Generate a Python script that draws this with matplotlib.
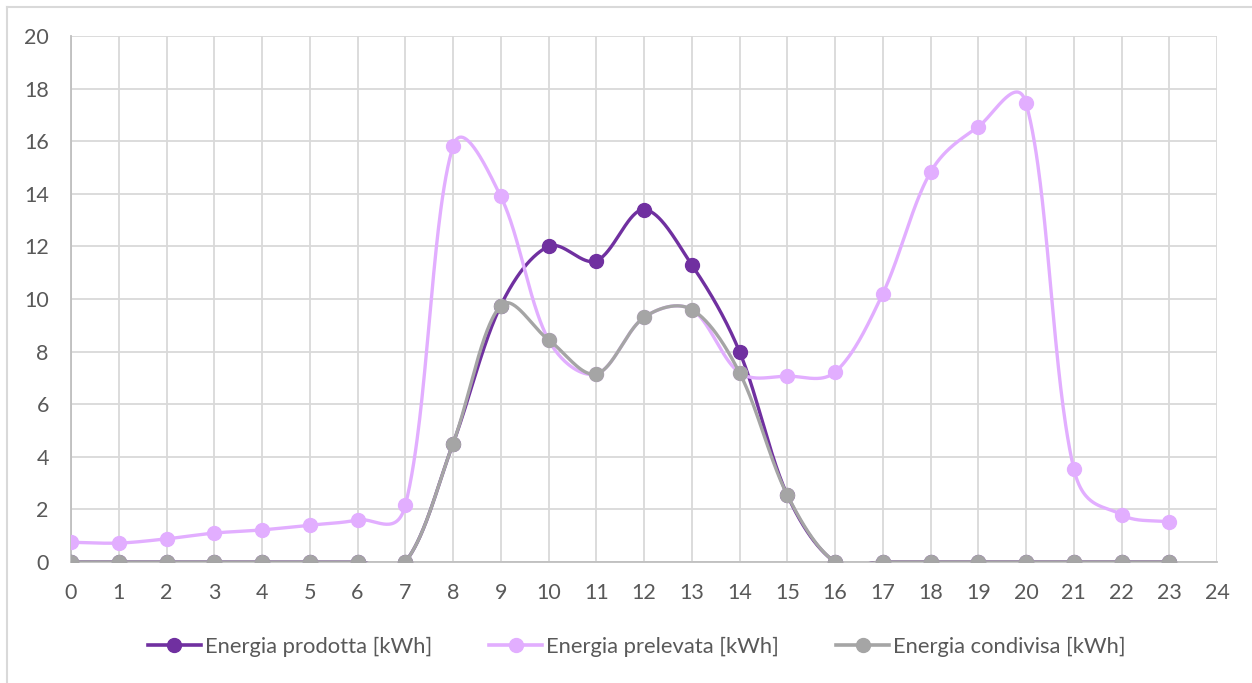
import numpy as np
import matplotlib
matplotlib.use("Agg")
import matplotlib.pyplot as plt
from matplotlib.lines import Line2D

hours = list(range(24))
prodotta = [0, 0, 0, 0, 0, 0, 0, 0, 4.5, 9.75, 12.0, 11.45, 13.4, 11.3, 8.0, 2.55,
            0, 0, 0, 0, 0, 0, 0, 0]
prelevata = [0.75, 0.72, 0.88, 1.1, 1.22, 1.4, 1.6, 2.15, 15.8, 13.9, 8.45, 7.15, 9.3, 9.6,
             7.2, 7.07, 7.22, 10.2, 14.82, 16.55, 17.45, 3.55, 1.8, 1.52]
condivisa = [0, 0, 0, 0, 0, 0, 0, 0, 4.5, 9.75, 8.45, 7.15, 9.3, 9.6, 7.2, 2.55,
             0, 0, 0, 0, 0, 0, 0, 0]
series_names = ["Energia prodotta [kWh]", "Energia prelevata [kWh]", "Energia condivisa [kWh]"]
colors = ["#7030A0", "#E2AEFF", "#A5A5A5"]

FIG_W, FIG_H = 1252, 683
AX_L, AX_R, AX_T, AX_B = 71, 1217, 36, 562
XMAX, YMAX = 24, 20


def smooth(x, y, sx, sy, n=60):
    """Bezier smoothing through every point; tangents are weighted by the
    on-screen length of the neighbouring segments (sx, sy = pixels per unit)."""
    P = np.column_stack([np.asarray(x, float) * sx, np.asarray(y, float) * sy])
    m = len(P)
    ext = np.vstack([P[0], P, P[-1]])
    t = np.linspace(0, 1, n)[:, None]
    out = []
    for i in range(m - 1):
        p_prev, p0, p1, p_next = ext[i], ext[i + 1], ext[i + 2], ext[i + 3]
        d_prev = np.sqrt(np.hypot(*(p0 - p_prev)))
        d_seg = np.sqrt(np.hypot(*(p1 - p0)))
        d_next = np.sqrt(np.hypot(*(p_next - p1)))
        w0 = d_seg / (d_prev + d_seg) if d_prev + d_seg > 0 else 0
        w1 = d_seg / (d_seg + d_next) if d_seg + d_next > 0 else 0
        c0 = p0 + (p1 - p_prev) * w0 / 3.0
        c1 = p1 - (p_next - p0) * w1 / 3.0
        b = (1 - t) ** 3 * p0 + 3 * (1 - t) ** 2 * t * c0 + 3 * (1 - t) * t ** 2 * c1 + t ** 3 * p1
        out.append(b)
    b = np.vstack(out)
    return b[:, 0] / sx, b[:, 1] / sy


plt.rcParams["font.family"] = ["Lato", "DejaVu Sans"]

fig = plt.figure(figsize=(FIG_W / 100, FIG_H / 100), dpi=100)
ax = fig.add_axes([AX_L / FIG_W, 1 - AX_B / FIG_H, (AX_R - AX_L) / FIG_W, (AX_B - AX_T) / FIG_H])

# outer chart frame
fig.add_artist(Line2D([7 / FIG_W, 1.01], [1 - 7 / FIG_H] * 2, transform=fig.transFigure,
                      color="#D9D9D9", lw=1.5))
fig.add_artist(Line2D([7 / FIG_W] * 2, [-0.01, 1 - 7 / FIG_H], transform=fig.transFigure,
                      color="#D9D9D9", lw=1.5))

px_x = (AX_R - AX_L) / XMAX
px_y = (AX_B - AX_T) / YMAX
for vals, name, c, z in zip([prodotta, prelevata, condivisa], series_names, colors, [3, 4, 5]):
    cx, cy = smooth(hours, vals, px_x, px_y)
    ax.plot(cx, cy, color=c, lw=2.4, zorder=z, solid_capstyle="round")
    ax.plot(hours, vals, ls="none", marker="o", ms=10, color=c, zorder=z)

ax.set_xlim(0, XMAX)
ax.set_ylim(0, YMAX)
ax.set_xticks(range(XMAX + 1))
ax.set_yticks(range(0, YMAX + 1, 2))
ax.grid(True, color="#D9D9D9", lw=1.3, zorder=0)
ax.set_axisbelow(True)
for s in ["top", "right"]:
    ax.spines[s].set_visible(False)
for s in ["left", "bottom"]:
    ax.spines[s].set_color("#BFBFBF")
    ax.spines[s].set_linewidth(1.3)
ax.tick_params(length=0, labelsize=15.5, labelcolor="#595959")
ax.tick_params(axis="y", pad=16)
ax.tick_params(axis="x", pad=15)

handles = [Line2D([], [], color=c, lw=2.6, marker="o", ms=10) for c in colors]
fig.legend(handles, series_names, loc="center", bbox_to_anchor=(637 / FIG_W, 1 - 647 / FIG_H),
           ncol=3, frameon=False, fontsize=15.8, labelcolor="#595959",
           handlelength=2.4, handletextpad=0.2, columnspacing=2.6)

fig.savefig("out.png", dpi=100)
